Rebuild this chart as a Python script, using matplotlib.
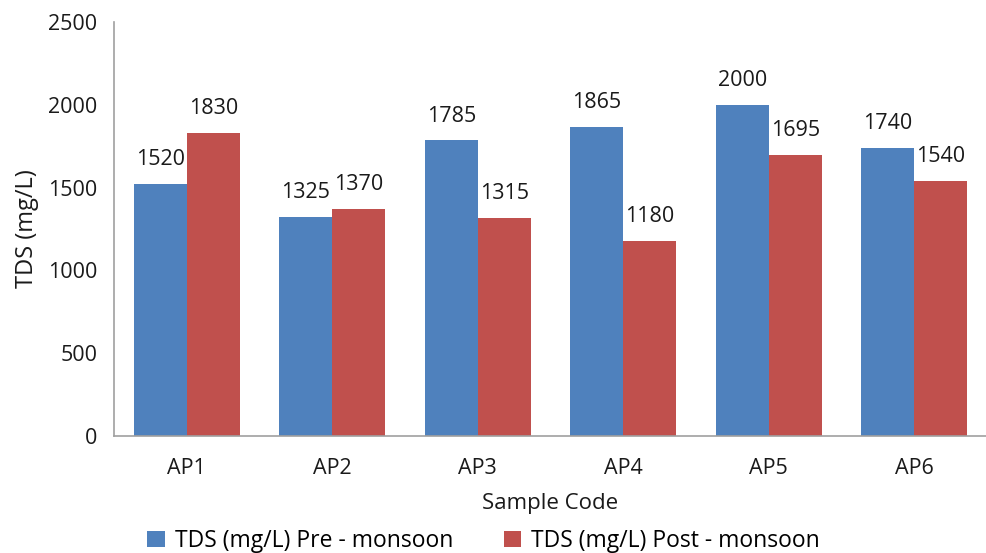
import matplotlib
matplotlib.use("Agg")
import matplotlib.pyplot as plt
import numpy as np

categories = ["AP1", "AP2", "AP3", "AP4", "AP5", "AP6"]
pre_monsoon = [1520, 1325, 1785, 1865, 2000, 1740]
post_monsoon = [1830, 1370, 1315, 1180, 1695, 1540]
series_names = ["TDS (mg/L) Pre - monsoon", "TDS (mg/L) Post - monsoon"]
yticks = [0, 500, 1000, 1500, 2000, 2500]

blue = "#4F81BD"
red = "#C0504D"
plt.rcParams['font.family'] = ['Open Sans', 'DejaVu Sans']
tc = "#1a1a1a"

fig = plt.figure(figsize=(9.87, 5.53), dpi=100)
ax = fig.add_axes([114/987, (553-436)/553, 1 - 114/987, (436-22)/553])

x = np.arange(len(categories))
w = 0.364
b1 = ax.bar(x - w/2, pre_monsoon, w, color=blue, label=series_names[0])
b2 = ax.bar(x + w/2, post_monsoon, w, color=red, label=series_names[1])

for bars, vals in ((b1, pre_monsoon), (b2, post_monsoon)):
    for r, v in zip(bars, vals):
        ax.annotate(str(v), (r.get_x() + r.get_width()/2, v), xytext=(0, 10),
                    textcoords="offset points", ha="center", va="bottom",
                    fontsize=15.5, color=tc)

ax.set_xlim(-0.5, len(categories) - 0.5)
ax.set_ylim(0, 2500)
ax.set_yticks(yticks)
ax.set_xticks(x)
ax.set_xticklabels(categories)
ax.tick_params(axis='both', length=0, labelsize=15.5, colors=tc)
ax.tick_params(axis='y', pad=12)
ax.tick_params(axis='x', pad=16)
for s in ["top", "right"]:
    ax.spines[s].set_visible(False)
for s in ["left", "bottom"]:
    ax.spines[s].set_color("#A0A0A0")
    ax.spines[s].set_linewidth(1.2)

ax.set_xlabel("Sample Code", fontsize=16, color=tc, labelpad=10)
ax.set_ylabel("TDS (mg/L)", fontsize=17, color=tc)
ax.yaxis.set_label_coords(-75/873, 0.5)

fig.legend(handles=[b1, b2], labels=series_names, loc="center",
           bbox_to_anchor=(0.49, (553-541)/553), ncol=2, frameon=False,
           fontsize=16.5, handlelength=0.75, handleheight=0.75, handletextpad=0.45,
           columnspacing=2.2, borderaxespad=0, borderpad=0)

fig.savefig("out.png", dpi=100)
